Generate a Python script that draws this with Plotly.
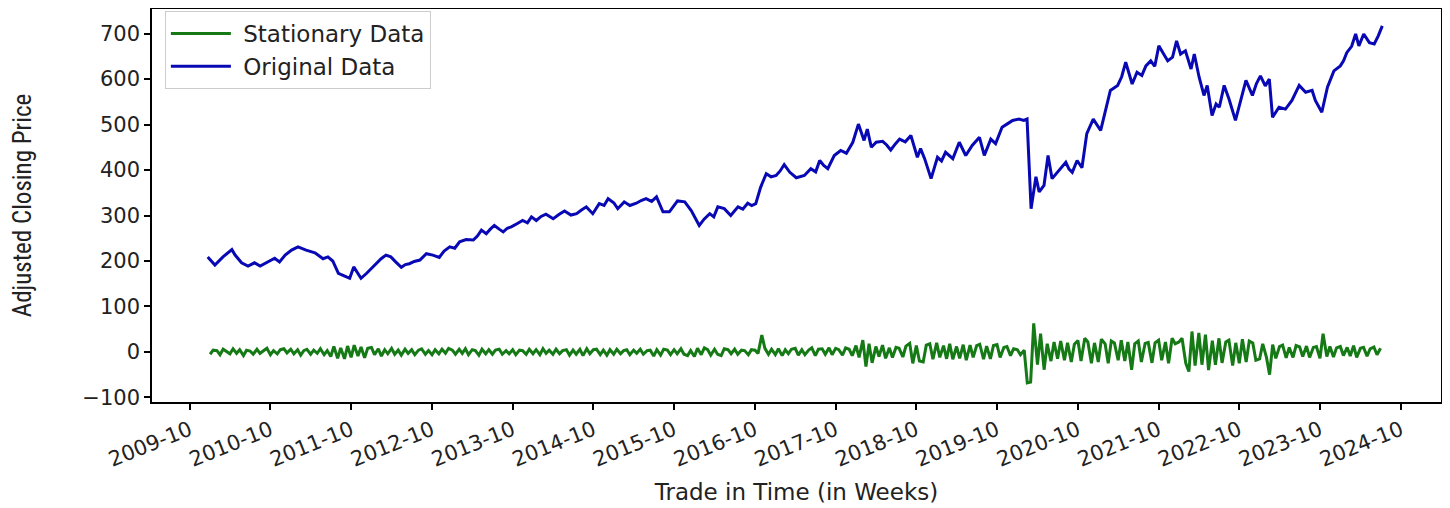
import pandas as pd
import plotly.graph_objects as go

# original weekly adjusted close (decimal year, price)
orig_t = [2009.97, 2010.06, 2010.16, 2010.27, 2010.31, 2010.39, 2010.47, 2010.55, 2010.62, 2010.70, 2010.80, 2010.86, 2010.93,
          2011.01, 2011.09, 2011.19, 2011.30, 2011.40, 2011.46, 2011.52, 2011.59, 2011.69, 2011.73, 2011.78, 2011.83, 2011.87, 2011.94,
          2012.06, 2012.12, 2012.18, 2012.24, 2012.30, 2012.37, 2012.42, 2012.47, 2012.53, 2012.60, 2012.68, 2012.76, 2012.84, 2012.90, 2012.97,
          2013.03, 2013.09, 2013.17, 2013.26, 2013.31, 2013.36, 2013.42, 2013.47, 2013.52, 2013.58, 2013.63, 2013.68, 2013.73, 2013.80, 2013.87, 2013.93, 2013.98,
          2014.04, 2014.10, 2014.16, 2014.25, 2014.32, 2014.39, 2014.47, 2014.54, 2014.60, 2014.66, 2014.74, 2014.82, 2014.88, 2014.93,
          2015.00, 2015.05, 2015.13, 2015.20, 2015.28, 2015.34, 2015.40, 2015.47, 2015.53, 2015.61, 2015.69, 2015.74, 2015.79, 2015.88, 2015.96,
          2016.06, 2016.12, 2016.19, 2016.24, 2016.29, 2016.37, 2016.45, 2016.54, 2016.60, 2016.66, 2016.71, 2016.76, 2016.82, 2016.89,
          2016.95, 2017.01, 2017.06, 2017.11, 2017.18, 2017.26, 2017.36, 2017.44, 2017.50, 2017.55, 2017.60, 2017.65, 2017.73, 2017.81, 2017.88, 2017.96,
          2018.03, 2018.07, 2018.10, 2018.14, 2018.19, 2018.25, 2018.33, 2018.38, 2018.43, 2018.49, 2018.54, 2018.61, 2018.68, 2018.76, 2018.80, 2018.85, 2018.93,
          2019.01, 2019.06, 2019.11, 2019.20, 2019.28, 2019.36, 2019.44, 2019.53, 2019.59, 2019.67, 2019.73, 2019.81, 2019.88, 2019.94,
          2020.02, 2020.08, 2020.12, 2020.17, 2020.23, 2020.27, 2020.33, 2020.38, 2020.43, 2020.48, 2020.52, 2020.56, 2020.60, 2020.64, 2020.68, 2020.74, 2020.80, 2020.86, 2020.94,
          2021.03, 2021.09, 2021.15, 2021.24, 2021.29, 2021.34, 2021.42, 2021.48, 2021.54, 2021.59, 2021.65, 2021.70, 2021.75, 2021.81, 2021.86, 2021.92, 2021.97,
          2022.02, 2022.08, 2022.15, 2022.19, 2022.25, 2022.31, 2022.35, 2022.41, 2022.46, 2022.50, 2022.56, 2022.62, 2022.70, 2022.77, 2022.83, 2022.91, 2022.96,
          2023.01, 2023.07, 2023.12, 2023.16, 2023.24, 2023.32, 2023.40, 2023.45, 2023.49, 2023.57, 2023.65, 2023.69, 2023.77, 2023.84, 2023.92,
          2024.00, 2024.04, 2024.08, 2024.14, 2024.19, 2024.23, 2024.29, 2024.36, 2024.42, 2024.47, 2024.52]
orig_v = [209, 191, 209, 225, 213, 196, 189, 196, 189, 196, 206, 198, 213,
          224, 231, 224, 218, 205, 209, 200, 173, 165, 162, 187, 173, 162, 173,
          194, 205, 213, 209, 198, 186, 192, 194, 199, 202, 216, 213, 208, 222, 231,
          228, 242, 247, 246, 255, 268, 260, 270, 278, 270, 264, 272, 275, 282, 289, 284, 297,
          289, 298, 303, 293, 302, 310, 301, 304, 312, 319, 304, 326, 322, 337,
          328, 315, 330, 322, 327, 333, 337, 331, 341, 308, 308, 320, 332, 330, 311,
          278, 292, 304, 297, 319, 315, 300, 319, 314, 327, 322, 326, 362, 392,
          385, 388, 398, 412, 395, 383, 388, 403, 396, 421, 410, 403, 432, 443, 437, 461,
          501, 483, 465, 490, 450, 461, 463, 455, 444, 458, 468, 462, 476, 428, 447, 425, 381,
          428, 420, 439, 425, 461, 432, 454, 472, 432, 468, 458, 494, 502, 509,
          512, 509, 512, 315, 385, 352, 366, 432, 381, 392, 399, 410, 417, 402, 395, 421, 405, 480, 512,
          487, 534, 575, 586, 605, 637, 589, 615, 608, 629, 640, 628, 673, 655, 640, 648, 684,
          655, 662, 622, 655, 604, 564, 586, 520, 545, 538, 586, 556, 509, 555, 597, 564, 590,
          607, 585, 600, 516, 538, 534, 553, 570, 586, 571, 575, 553, 527, 582, 618,
          629, 640, 658, 672, 699, 673, 699, 680, 677, 695, 717]

# differenced (stationary) series, twice a month from 2010-01, one row per year
stat_v = [-5, 4, 3, -6, 6, 2, -4, 7, -3, 5, -8, 4, 2, -5, 6, -3, 4, 8, -6, 3, -4, 5, 7, -2,
          6, -4, 5, -7, 3, 6, -5, 4, -3, 7, -6, 3, -10, 12, -14, 9, -15, 13, -12, 15, -9, 11, -13, 8,
          10, -6, 7, -9, 5, -4, 8, -5, 4, -7, 6, -3, 5, -6, 4, 7, -5, 3, -6, 5, -4, 6, -3, 8,
          4, -5, 6, -3, 7, -6, 5, 3, -7, 6, -4, 5, -5, 4, 6, -5, 3, -4, 5, -6, 4, 3, -5, 6,
          -4, 5, -6, 7, -3, 4, -5, 6, -4, 3, 5, -7, 4, -5, 6, -8, 7, -4, 5, 6, -6, 4, -7, 5,
          -5, 6, -4, 3, 5, -6, 4, -3, 6, -5, 3, 4, -9, 5, -7, 6, 4, -6, 5, -4, 7, -5, -8, 3,
          -10, 8, -6, 9, 5, -7, 6, -5, -8, 7, 5, -4, 6, -5, 4, 3, -6, 5, 4, -3, 37, 8, -5, 6,
          -6, 7, -8, 5, -4, 6, 8, -7, 5, -6, 4, 9, -8, 6, 7, -5, 9, -6, 8, 5, -7, 9, 6, -8,
          14, -12, 26, -32, 18, -24, 12, -10, 15, -14, 9, -12, 10, 8, -11, 13, 19, -25, 14, -20, -22, 15, 18, -16,
          20, -12, 14, -15, 18, -16, 12, -14, 16, -18, 15, -12, 14, 17, -16, 13, -15, 14, 16, -12, 10, 12, -8, 7,
          5, -6, 4, -68, -66, 63, -28, 40, -39, 18, -20, 22, -15, 24, -18, 20, -22, 17, 25, -20, 30, 22, -25, 20,
          -22, 28, 18, -25, 24, 20, -18, 26, -20, 22, -39, 18, 24, -22, 19, 21, -24, 20, 26, -18, 22, -25, 30, 18,
          22, 30, -25, -43, 45, -30, 42, -28, 38, -40, 25, -28, 30, -24, 22, 26, -30, 20, -25, 28, -22, 24, 20, -18,
          -15, 18, -12, -50, 16, -14, 12, 15, -13, 10, -12, 14, 11, -10, 13, -12, 10, 12, -14, 40, -10, 12, -11, 9,
          12, -8, 10, -9, 14, -12, 8, 10, -9, 7, 11, -6, 8]

tick_years = list(range(2009, 2025))
y_ticks = [-100, 0, 100, 200, 300, 400, 500, 600, 700]


def to_date(t):
    y = int(t)
    return pd.Timestamp(year=y, month=1, day=1) + pd.Timedelta(days=(t - y) * 365.25)


orig_dates = [to_date(t) for t in orig_t]
stat_dates = pd.date_range("2010-01-01", periods=len(stat_v), freq="SMS")

fig = go.Figure()
fig.add_trace(go.Scatter(x=stat_dates, y=stat_v, mode="lines", name=" Stationary Data",
                         line=dict(color="#157a15", width=3)))
fig.add_trace(go.Scatter(x=orig_dates, y=orig_v, mode="lines", name=" Original Data",
                         line=dict(color="#0808b4", width=3)))

font = "DejaVu Sans, Verdana, sans-serif"
# the page body adds 8px around the figure, so the figure is 8px smaller
fig.update_layout(
    width=1442, height=500,
    margin=dict(l=144, r=9, t=1, b=106),
    plot_bgcolor="white", paper_bgcolor="white",
    font=dict(family=font, size=21, color="#222"),
    showlegend=True,
    legend=dict(x=0.01, y=0.995, xanchor="left", yanchor="top",
                bgcolor="rgba(255,255,255,0.9)", bordercolor="#cccccc", borderwidth=1,
                font=dict(size=23), tracegroupgap=0, itemwidth=60),
    xaxis=dict(
        range=[to_date(2009.28), to_date(2025.245)],
        tickvals=[f"{y}-10-01" for y in tick_years],
        ticktext=[f"{y}-10" for y in tick_years],
        tickangle=-22, ticks="outside", ticklen=6, tickwidth=1.5, tickcolor="black",
        showline=True, linecolor="black", linewidth=1.5, mirror=True,
        showgrid=False, zeroline=False, automargin=False,
        title=dict(text="Trade in Time (in Weeks)", font=dict(size=23), standoff=13),
    ),
    yaxis=dict(
        range=[-110, 754],
        tickvals=y_ticks,
        ticktext=[str(v).replace("-", "\u2212") for v in y_ticks],
        ticks="outside", ticklen=6, tickwidth=1.5, tickcolor="black",
        showline=True, linecolor="black", linewidth=1.5, mirror=True,
        showgrid=False, zeroline=False, automargin=False,
        title=dict(text="Adjusted Closing Price",
                   font=dict(family="Liberation Sans Narrow, Roboto Condensed, Roboto, sans-serif", size=25),
                   standoff=52),
    ),
)

fig.write_html("out.html")
